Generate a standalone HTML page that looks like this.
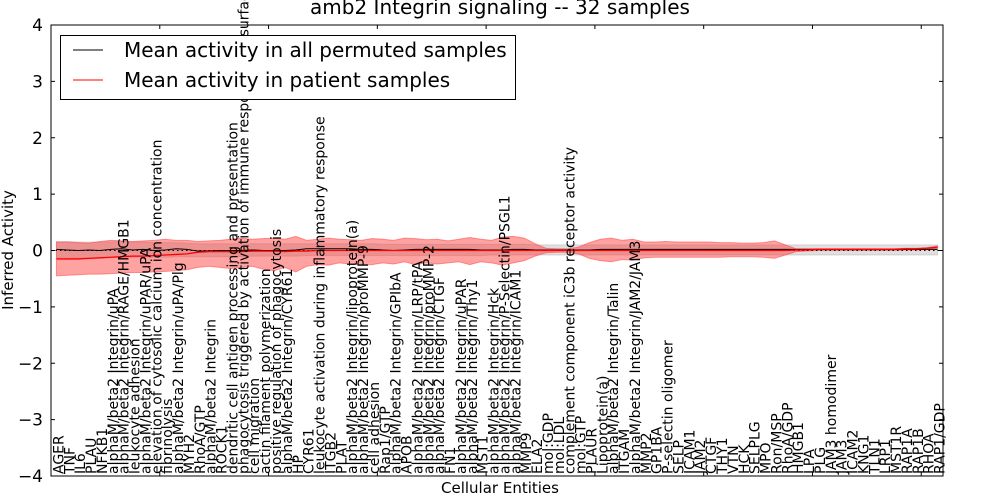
<!DOCTYPE html>
<html><head><meta charset="utf-8"><style>
html,body{margin:0;padding:0;background:#fff;}
svg{display:block;font-family:"DejaVu Sans","Liberation Sans",sans-serif;}
</style></head><body>
<svg id="chart" width="1000" height="500" viewBox="0 0 1000 500">
<g id="bands"></g>
<g id="labels"></g>
<g id="axes"></g>
</svg>
<script>
const categories = ["AGER","TNF","IL6","PLAU","NFKB1","alphaM/beta2 Integrin/uPA","alphaM/beta2 Integrin/RAGE/HMGB1","leukocyte adhesion","alphaM/beta2 Integrin/uPAR/uPA","elevation of cytosolic calcium ion concentration","fibrinolysis","alphaM/beta2 Integrin/uPA/Plg","MYH2","RhoA/GTP","alphaM/beta2 Integrin","ROCK1","dendritic cell antigen processing and presentation","phagocytosis triggered by activation of immune response cell surface activating receptor","cell migration","actin filament polymerization","positive regulation of phagocytosis","alphaM/beta2 Integrin/CYR61","HP","CYR61","leukocyte activation during inflammatory response","ITGB2","PLAT","alphaM/beta2 Integrin/lipoprotein(a)","alphaM/beta2 Integrin/proMMP-9","cell adhesion","Rap1/GTP","alphaM/beta2 Integrin/GPIbA","APOB","alphaM/beta2 Integrin/LRP/tPA","alphaM/beta2 Integrin/proMMP-2","alphaM/beta2 Integrin/CTGF","FN1","alphaM/beta2 Integrin/uPAR","alphaM/beta2 Integrin/Thy1","MST1","alphaM/beta2 Integrin/Hck","alphaM/beta2 Integrin/P-Selectin/PSGL1","alphaM/beta2 Integrin/ICAM1","MMP9","ELA2","mol:GDP","mol:LDL","complement component iC3b receptor activity","mol:GTP","PLAUR","Lipoprotein(a)","alphaM/beta2 Integrin/Talin","ITGAM","alphaM/beta2 Integrin/JAM2/JAM3","MMP2","GP1BA","P-selectin oligomer","SELP","ICAM1","JAM2","CTGF","THY1","VTN","HCK","SELPLG","MPO","Ron/MSP","RhoA/GDP","HMGB1","LPA","PLG","JAM3 homodimer","JAM3","ICAM2","KNG1","TLN1","LRP1","MST1R","RAP1A","RAP1B","RHOA","RAP1/GDP"];
const patMean = [-0.15,-0.15,-0.15,-0.14,-0.13,-0.12,-0.11,-0.10,-0.10,-0.09,
-0.08,-0.07,-0.06,-0.03,-0.02,-0.02,-0.02,-0.02,-0.01,-0.01,
-0.01,-0.02,-0.01,-0.01,0,0,0,0,0,0,
0,0,0,0,0,0,0,0,0,0,
0,0,0,0,0,0,0,0,0,0,
0,0,0,0,0,0,0,0,0,0,
0,0,0,0,0,0,0,0,0.01,0.01,
0.02,0.02,0.02,0.02,0.02,0.02,0.02,0.02,0.03,0.03,
0.04,0.06];
const patHi = [0.15,0.15,0.14,0.13,0.16,0.18,0.17,0.16,0.17,0.18,
0.20,0.18,0.18,0.16,0.17,0.18,0.20,0.22,0.20,0.21,
0.22,0.20,0.25,0.18,0.20,0.22,0.20,0.19,0.18,0.21,
0.20,0.18,0.22,0.21,0.19,0.20,0.17,0.20,0.23,0.20,
0.18,0.24,0.25,0.22,0.12,0.04,0.03,0.03,0.06,0.14,
0.20,0.22,0.18,0.20,0.15,0.15,0.16,0.15,0.15,0.15,
0.15,0.14,0.14,0.13,0.13,0.14,0.17,0.10,0.03,0.03,
0.03,0.03,0.03,0.03,0.03,0.03,0.03,0.03,0.04,0.04,
0.05,0.08];
const patLo = [-0.45,-0.44,-0.43,-0.42,-0.42,-0.41,-0.40,-0.39,-0.39,-0.38,
-0.37,-0.36,-0.34,-0.30,-0.28,-0.30,-0.32,-0.30,-0.28,-0.33,
-0.36,-0.30,-0.38,-0.28,-0.25,-0.26,-0.22,-0.24,-0.26,-0.25,
-0.22,-0.24,-0.20,-0.25,-0.22,-0.24,-0.22,-0.20,-0.25,-0.20,
-0.22,-0.26,-0.22,-0.18,-0.10,-0.04,-0.03,-0.03,-0.06,-0.14,
-0.18,-0.20,-0.16,-0.17,-0.13,-0.12,-0.12,-0.12,-0.12,-0.12,
-0.12,-0.12,-0.11,-0.11,-0.11,-0.12,-0.14,-0.08,-0.02,-0.01,
0,0,0,0,0,0,0,0,0.01,0.01,
0.02,0.04];
const permMean = [0.02,0.01,0.00,0.01,0.00,0.02,0.03,0.01,0.02,0.00,
0.01,0.03,0.02,-0.01,-0.01,0.00,0.00,0.00,0.01,0.00,
0.00,0.00,0.01,0.03,0.03,0.03,0.03,0.03,0.02,0.02,
0.01,0.00,0.01,0.02,0.02,0.02,0.02,0.02,0.02,0.01,
0.01,0.01,0.02,0.02,0.01,0.01,0.01,0.01,0.01,0.01,
0.02,0.02,0.02,0.02,0.02,0.02,0.02,0.02,0.02,0.02,
0.02,0.02,0.02,0.02,0.02,0.02,0.02,0.02,0.02,0.02,
0.02,0.02,0.02,0.02,0.02,0.02,0.02,0.02,0.02,0.02,
0.02,0.02];
const permHi = [0.16,0.16,0.15,0.15,0.15,0.15,0.16,0.15,0.15,0.14,
0.14,0.14,0.13,0.12,0.12,0.12,0.12,0.12,0.12,0.12,
0.12,0.12,0.12,0.12,0.12,0.12,0.12,0.12,0.12,0.12,
0.11,0.11,0.11,0.11,0.11,0.11,0.11,0.11,0.11,0.11,
0.11,0.11,0.11,0.11,0.10,0.10,0.10,0.10,0.10,0.10,
0.10,0.10,0.10,0.10,0.10,0.10,0.10,0.10,0.10,0.10,
0.10,0.10,0.10,0.10,0.10,0.10,0.10,0.10,0.10,0.10,
0.10,0.10,0.10,0.10,0.10,0.10,0.10,0.10,0.10,0.10,
0.10,0.10];
const permLo = [-0.13,-0.13,-0.13,-0.13,-0.13,-0.12,-0.12,-0.12,-0.12,-0.12,
-0.12,-0.11,-0.11,-0.11,-0.11,-0.11,-0.11,-0.11,-0.10,-0.10,
-0.10,-0.10,-0.10,-0.09,-0.09,-0.09,-0.09,-0.09,-0.09,-0.09,
-0.09,-0.09,-0.09,-0.09,-0.09,-0.09,-0.09,-0.09,-0.09,-0.09,
-0.08,-0.08,-0.08,-0.08,-0.08,-0.08,-0.08,-0.08,-0.08,-0.08,
-0.08,-0.08,-0.08,-0.08,-0.08,-0.08,-0.08,-0.08,-0.08,-0.08,
-0.08,-0.08,-0.08,-0.08,-0.08,-0.08,-0.08,-0.08,-0.08,-0.08,
-0.08,-0.08,-0.08,-0.08,-0.08,-0.08,-0.08,-0.08,-0.08,-0.08,
-0.08,-0.08];
const yTicks = [-4,-3,-2,-1,0,1,2,3,4];
const yTickLabels = ["\u22124","\u22123","\u22122","\u22121","0","1","2","3","4"];
const xTicks = [10,20,30,40,50,60,70,80];

const L=51,R=943,T=25,B=476;
const NS="http://www.w3.org/2000/svg";
const n=categories.length;
function xs(i){return L+(i)*(R-L)/n;}
function ys(v){return B-(v+4)*(B-T)/8;}
function mk(tag,attrs,parent){const e=document.createElementNS(NS,tag);for(const k in attrs)e.setAttribute(k,attrs[k]);parent.appendChild(e);return e;}
const gB=document.getElementById('bands'),gL=document.getElementById('labels'),gA=document.getElementById('axes');

function bandPath(hi,lo){let d='';for(let i=0;i<n;i++)d+=(i?'L':'M')+xs(i+0.5).toFixed(2)+','+ys(hi[i]).toFixed(2);for(let i=n-1;i>=0;i--)d+='L'+xs(i+0.5).toFixed(2)+','+ys(lo[i]).toFixed(2);return d+'Z';}
function linePath(a){let d='';for(let i=0;i<n;i++)d+=(i?'L':'M')+xs(i+0.5).toFixed(2)+','+ys(a[i]).toFixed(2);return d;}

const pb=mk('path',{d:bandPath(permHi,permLo),fill:'#bfbfbf','fill-opacity':'0.5',stroke:'#aaaaaa','stroke-opacity':'0.4'},gB);


const rb=mk('path',{d:bandPath(patHi,patLo),fill:'#ff3030','fill-opacity':'0.45',stroke:'#ff5050','stroke-opacity':'0.6'},gB);


const zl=mk('line',{x1:L,x2:R,y1:ys(0),y2:ys(0),stroke:'#000','stroke-width':1,'stroke-dasharray':'1.5,3'},gB);


const pl=mk('path',{d:linePath(permMean),fill:'none',stroke:'#000','stroke-width':1},gB);


const rl=mk('path',{d:linePath(patMean),fill:'none',stroke:'#ff0000','stroke-width':1.3},gB);



for(let i=0;i<n;i++){
  const x=xs(i+0.5)+7;
  const t=mk('text',{x:0,y:0,transform:'translate('+x.toFixed(2)+',474) rotate(-90)','font-size':'14',fill:'#000'},gL);
  t.textContent=categories[i];
  
  
}

const frame=mk('rect',{x:L,y:T,width:R-L,height:B-T,fill:'none',stroke:'#000','stroke-width':1},gA);


for(let k=0;k<yTicks.length;k++){
  const y=ys(yTicks[k]);
  mk('line',{x1:L,x2:L+4,y1:y,y2:y,stroke:'#000'},gA);
  mk('line',{x1:R-4,x2:R,y1:y,y2:y,stroke:'#000'},gA);
  const t=mk('text',{x:L-8,y:y+6,'text-anchor':'end','font-size':'17',fill:'#000'},gA);
  t.textContent=yTickLabels[k];
  
  
}
for(const v of xTicks){
  const x=xs(v);
  mk('line',{x1:x,x2:x,y1:T,y2:T+4,stroke:'#000'},gA);
  mk('line',{x1:x,x2:x,y1:B-4,y2:B,stroke:'#000'},gA);
}
</script>
<svg width="1000" height="500" style="position:absolute;left:0;top:0">
  <text x="500" y="14" text-anchor="middle" font-size="20" font-family="DejaVu Sans, Liberation Sans, sans-serif">amb2 Integrin signaling -- 32 samples</text>
  <text x="500" y="493" text-anchor="middle" font-size="15" font-family="DejaVu Sans, Liberation Sans, sans-serif">Cellular Entities</text>
  <text transform="translate(13,250) rotate(-90)" text-anchor="middle" font-size="15" font-family="DejaVu Sans, Liberation Sans, sans-serif">Inferred Activity</text>
  <g>
    <rect x="60.5" y="35.5" width="455" height="64" fill="#fff" stroke="#000"/>
    <line x1="73" x2="103" y1="50" y2="50" stroke="#000"/>
    <text x="124" y="57" font-size="20" font-family="DejaVu Sans, Liberation Sans, sans-serif">Mean activity in all permuted samples</text>
    <line x1="73" x2="103" y1="80" y2="80" stroke="#f00"/>
    <text x="124" y="87" font-size="20" font-family="DejaVu Sans, Liberation Sans, sans-serif">Mean activity in patient samples</text>
  </g>
</svg>
</body></html>
